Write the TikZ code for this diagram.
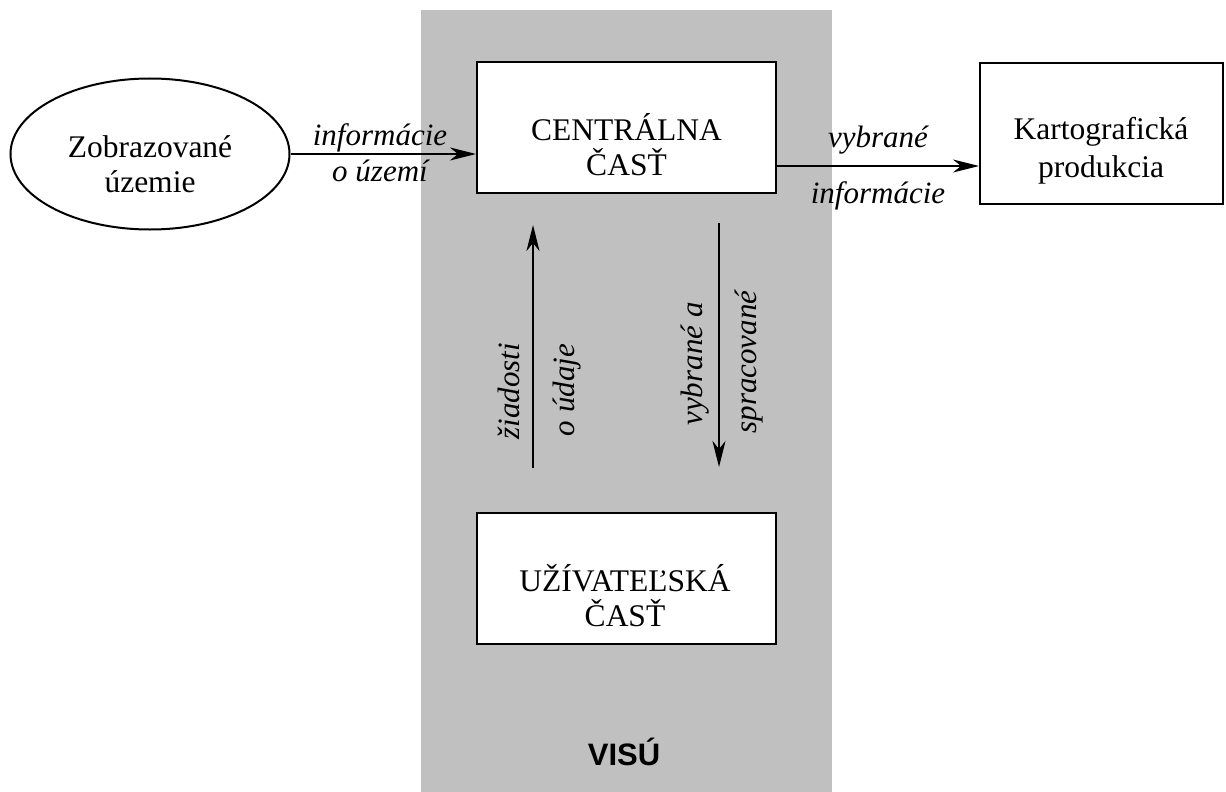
\documentclass[tikz,border=0pt]{standalone}
\usepackage{fontspec}
\setmainfont{Liberation Serif}
\setsansfont{Liberation Sans}
\usetikzlibrary{arrows.meta,shapes.geometric}
\definecolor{panelgrey}{HTML}{C0C0C0}
\tikzset{
  box/.style={draw, line width=2pt, fill=white, inner sep=0pt},
  boxtext/.style={font=\fontsize{31.5}{35}\selectfont, align=center, anchor=base, inner sep=0pt},
  flowlabel/.style={font=\fontsize{31}{35}\selectfont\itshape, anchor=base, inner sep=0pt},
  flow/.style={line width=2pt, -{Stealth[length=26pt, width=13pt, inset=8pt]}},
}
\begin{document}
\begin{tikzpicture}[x=1pt, y=-1pt]
\useasboundingbox (0,0) rectangle (1226,792);

% grey system panel
\node[fill=panelgrey, inner sep=0pt, minimum width=411pt, minimum height=782pt,
      anchor=north west] (panel) at (421,10) {};

% boxes
\node[box, ellipse, minimum width=279pt, minimum height=151pt] (ell) at (150,154) {};
\node[box, minimum width=299pt, minimum height=131pt] (cen) at (626.5,127.5) {};
\node[box, minimum width=243pt, minimum height=141pt] (kart) at (1101.5,133.5) {};
\node[box, minimum width=299pt, minimum height=131pt] (user) at (626.5,578.5) {};

% box texts (anchored at the baseline of the last line)
\node[boxtext] (ellText) at (150,192) {Zobrazované\\územie};
\node[boxtext] (cenText) at (626.5,175) {CENTRÁLNA\\ČASŤ};
\node[boxtext] (kartText) at (1101,177) {Kartografická\\[3pt]produkcia};
\node[boxtext] (userText) at (625,626) {UŽÍVATEĽSKÁ\\ČASŤ};

% horizontal flows
\draw[flow] (ell.east) -- (ell.east -| cen.west);
\draw[flow] ([yshift=-38.5pt]cen.east) -- ([yshift=-38.5pt]cen.east -| kart.west);

% vertical flows between the user part and the central part
\coordinate (reqFrom) at (533,468);
\coordinate (reqTo) at (533,225);
\coordinate (resFrom) at (719,223);
\coordinate (resTo) at (719,467);
\draw[flow] (reqFrom) -- (reqTo);
\draw[flow] (resFrom) -- (resTo);

% flow labels
\node[flowlabel] (l1a) at (380,145) {informácie};
\node[flowlabel] (l1b) at (380,181) {o území};
\node[flowlabel] (l2a) at (878,147) {vybrané};
\node[flowlabel] (l2b) at (878,203) {informácie};
\node[flowlabel, rotate=90] (l3a) at (519,391) {žiadosti};
\node[flowlabel, rotate=90] (l3b) at (574,390) {o údaje};
\node[flowlabel, rotate=90] (l4a) at (702,364) {vybrané a};
\node[flowlabel, rotate=90] (l4b) at (756,362) {spracované};

% panel title
\node[font=\sffamily\bfseries\fontsize{31}{35}\selectfont, anchor=base, inner sep=0pt]
  (visu) at (624,765) {VISÚ};
\end{tikzpicture}
\end{document}
